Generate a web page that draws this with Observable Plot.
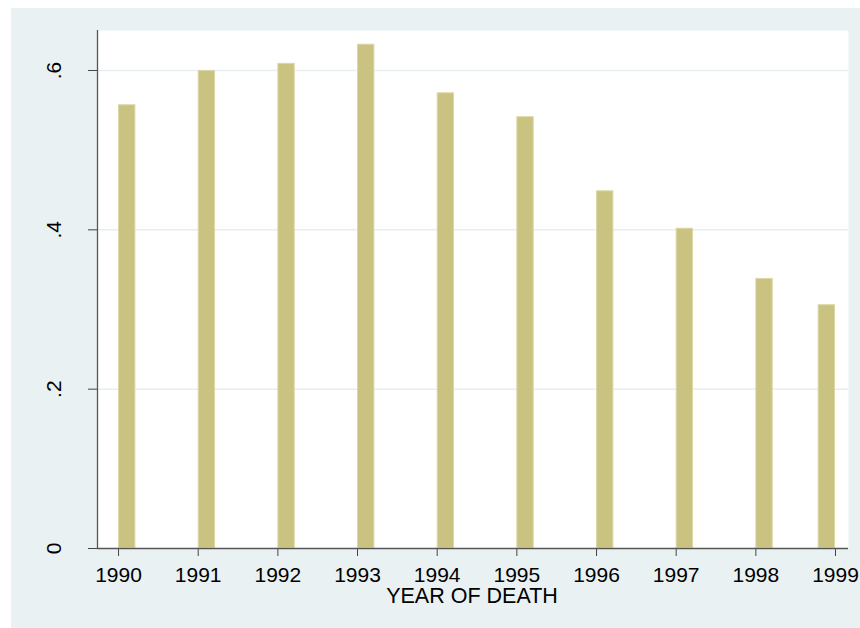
<!DOCTYPE html>
<html>
<head>
<meta charset="utf-8">
<script src="https://cdn.jsdelivr.net/npm/d3@7"></script>
<script src="https://cdn.jsdelivr.net/npm/@observablehq/plot@0.6"></script>
<style>
  html, body { margin: 0; padding: 0; background: #ffffff; overflow: hidden; }
  #wrap { position: relative; width: 860px; height: 628px; overflow: hidden; }
  #bg { position: absolute; left: 11px; top: 8px; right: 0; bottom: 0; background: #eaf1f3; }
  #chart { position: absolute; left: 0; top: 0; }
</style>
</head>
<body>
<div id="wrap"><div id="bg"></div><div id="chart"></div></div>
<script>
const years = [1990, 1991, 1992, 1993, 1994, 1995, 1996, 1997, 1998, 1999];
const values = [0.557, 0.600, 0.609, 0.633, 0.572, 0.542, 0.449, 0.402, 0.339, 0.306];
const yTicks = [0, 0.2, 0.4, 0.6];
const yTickLabels = ["0", ".2", ".4", ".6"];
const xTitle = "YEAR OF DEATH";

const barWidth = 0.218;
const xMax = d3.max(years);
const idx = years.map((_, i) => i);
const barStart = i => (years[i] + barWidth > xMax + 0.05) ? years[i] - barWidth : years[i];

const font = "'Liberation Sans', Arial, sans-serif";

const chart = Plot.plot({
  width: 860,
  height: 628,
  marginLeft: 97,
  marginRight: 12,
  marginTop: 30,
  marginBottom: 80,
  style: { background: "transparent", fontFamily: font, overflow: "visible", color: "#000" },
  x: { type: "linear", domain: [1989.736, 1999.163], axis: null },
  y: { domain: [0, 0.6502], axis: null },
  marks: [
    Plot.frame({ fill: "#ffffff", stroke: null }),
    Plot.gridY(yTicks.filter(d => d > 0), { stroke: "#e6eef1", strokeOpacity: 1, strokeWidth: 1.5 }),
    Plot.rectY(idx, {
      x1: i => barStart(i),
      x2: i => barStart(i) + barWidth,
      y1: 0,
      y2: i => values[i],
      fill: "#c9c281",
      stroke: "#dcd8a6",
      strokeWidth: 1,
      inset: 0.5
    }),
    Plot.axisX(years, {
      tickSize: 8,
      tickPadding: 11,
      tickFormat: d => String(d),
      fontSize: 21,
      stroke: "#444",
      fill: "#000",
      label: null
    }),
    Plot.axisY(yTicks, {
      tickSize: 9,
      tickFormat: () => "",
      stroke: "#444",
      label: null
    }),
    Plot.text(idx.slice(0, yTicks.length), {
      y: i => yTicks[i],
      text: i => yTickLabels[i],
      frameAnchor: "left",
      rotate: -90,
      dx: -43,
      textAnchor: "middle",
      fontSize: 21,
      fill: "#000"
    }),
    Plot.ruleY([0], { stroke: "#555", strokeWidth: 1.3 }),
    Plot.ruleX([1989.736], { stroke: "#555", strokeWidth: 1.3 }),
    Plot.text([xTitle], {
      frameAnchor: "bottom",
      dy: 54,
      dx: -1,
      text: d => d,
      fontSize: 21.5,
      fill: "#000"
    })
  ]
});
document.getElementById("chart").appendChild(chart);
</script>
</body>
</html>
